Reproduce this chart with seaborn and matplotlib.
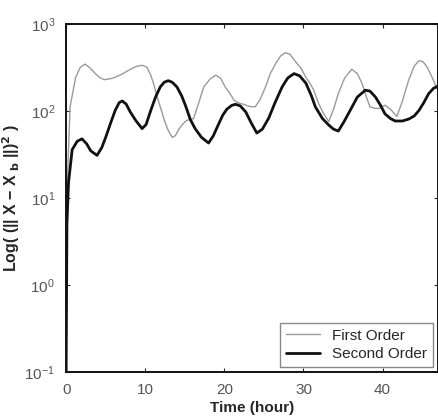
import matplotlib
matplotlib.use("Agg")
import matplotlib.pyplot as plt
import numpy as np
import pandas as pd
import seaborn as sns

# values (hours, ||X - Xb||^2)
t_first = [0, 0.15, 0.5, 1.2, 1.8, 2.4, 3.0, 3.7, 4.2, 4.8, 5.5, 6.2, 7.0,
           7.9, 8.8, 9.6, 10.2, 10.7, 11.1, 11.5, 12.0, 12.4, 12.9, 13.4,
           13.8, 14.3, 14.8, 15.2, 16.1, 16.7, 17.4, 18.2, 18.9, 19.5, 20.1,
           20.7, 21.2, 21.8, 22.4, 23.2, 23.9, 24.5, 25.2, 25.8, 26.5, 27.1,
           27.7, 28.3, 29.0, 29.7, 30.3, 30.8, 31.3, 31.9, 32.5, 33.2, 33.8,
           34.4, 35.2, 36.1, 36.8, 37.4, 37.9, 38.4, 39.0, 39.5, 40.3, 41.0,
           41.8, 42.5, 43.3, 44.0, 44.6, 45.1, 45.6, 46.3, 47.0]
v_first = [1, 15, 112, 245, 320, 347, 315, 270, 245, 230, 235, 245, 265,
           295, 325, 337, 320, 259, 200, 146, 105, 79, 60, 50,
           52, 63, 72, 78, 82, 120, 190, 235, 259, 240, 190,
           160, 134, 124, 120, 113, 112, 135, 190, 270, 355, 430,
           470, 450, 370, 310, 245, 210, 174, 123, 95, 76, 105,
           159, 240, 303, 270, 209, 150, 112, 108, 107, 117, 105,
           87, 130, 229, 330, 380, 370, 324, 240, 170]

t_second = [0, 0.1, 0.3, 0.76, 1.4, 2.0, 2.6, 3.1, 3.9, 4.5, 5.0, 5.6, 6.2,
            6.7, 7.1, 7.6, 8.1, 8.8, 9.6, 10.1, 10.7, 11.3, 11.9, 12.4, 12.9,
            13.4, 14.0, 14.6, 15.1, 15.7, 16.3, 17.1, 18.0, 18.6, 19.3, 19.8,
            20.3, 20.9, 21.4, 22.0, 22.7, 23.4, 24.1, 24.8, 25.6, 26.4, 27.3,
            28.0, 28.8, 29.5, 30.3, 31.0, 31.5, 32.4, 33.2, 33.8, 34.4, 35.1,
            35.9, 36.8, 37.8, 38.4, 39.1, 39.7, 40.3, 41.0, 41.6, 42.5, 43.3,
            44.0, 44.6, 45.2, 45.8, 46.4, 47.0]
v_second = [0.1, 5, 15, 36, 45, 48, 42, 35, 31, 38, 50, 72, 102,
            125, 131, 120, 98, 78, 63, 70, 102, 145, 190, 215, 224,
            215, 190, 150, 115, 80, 63, 50, 43, 52, 72, 90,
            105, 116, 120, 115, 98, 73, 56, 62, 83, 125, 190,
            240, 270, 255, 210, 150, 112, 82, 69, 62, 59, 75,
            102, 145, 174, 170, 145, 118, 93, 82, 77, 77, 81,
            88, 102, 125, 158, 182, 195]

df = pd.concat([
    pd.DataFrame({"t": t_first, "v": v_first, "order": "First Order"}),
    pd.DataFrame({"t": t_second, "v": v_second, "order": "Second Order"}),
])

sns.set_style("ticks")
plt.rcParams["font.family"] = ["Liberation Sans", "DejaVu Sans"]

fig = plt.figure(figsize=(4.38, 4.17), dpi=100)
ax = fig.add_axes([0.151, 0.108, 0.849, 0.834])

sns.lineplot(data=df, x="t", y="v", hue="order", size="order",
             palette={"First Order": "#9a9a9a", "Second Order": "#111111"},
             sizes={"First Order": 1.0, "Second Order": 2.0},
             sort=False, estimator=None, ax=ax)

ax.set_yscale("log")
ax.set_ylim(0.1, 1000)
ax.set_xlim(0, 47)
ax.set_xticks([0, 10, 20, 30, 40])
ax.set_yticks([0.1, 1, 10, 100, 1000])
ax.minorticks_off()
ax.tick_params(direction="in", length=3, top=True, right=True,
               labelsize=11, labelcolor="#555555", pad=8)
for s in ax.spines.values():
    s.set_linewidth(1.4)
    s.set_color("#111111")

ax.set_xlabel("Time (hour)", fontsize=11, fontweight="bold", labelpad=3)
ax.set_ylabel(r"Log( (|| X − X$_{\mathbf{\ b}}$ ||)$^{\mathbf{2}}$ )",
              fontsize=11.5, fontweight="bold")
ax.yaxis.set_label_coords(-0.118, 0.5)

ax.legend(loc="lower right", fontsize=11, frameon=True, fancybox=False,
          edgecolor="#888888", framealpha=1, handlelength=2.2,
          borderaxespad=0.3, labelspacing=0.3)

fig.savefig("out.png", dpi=100)
